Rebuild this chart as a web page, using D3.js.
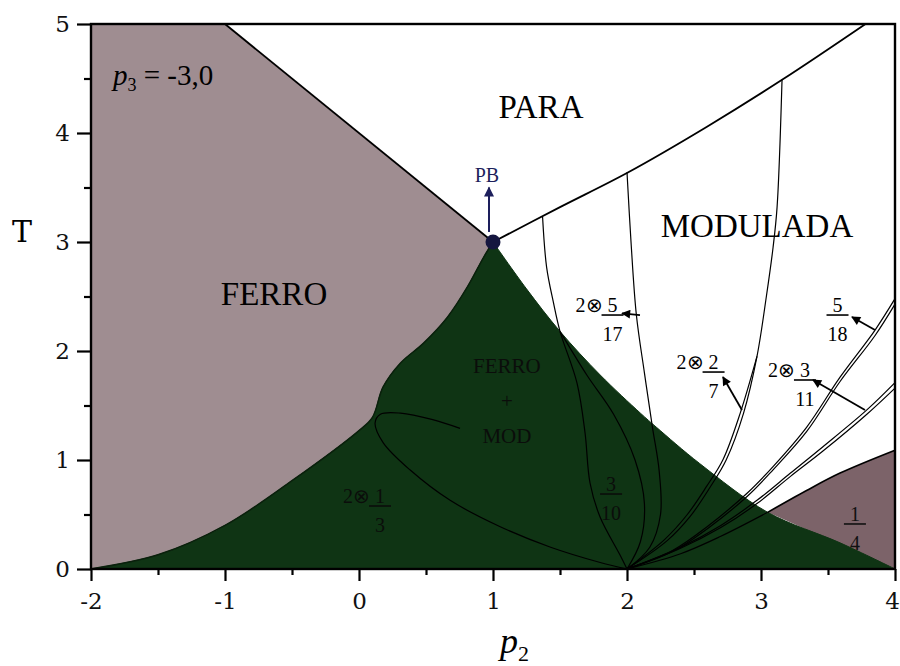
<!DOCTYPE html>
<html><head><meta charset="utf-8">
<script src="https://cdn.jsdelivr.net/npm/d3@7"></script>
<style>body{margin:0;background:#fff}</style>
</head><body><svg id="c" width="900" height="666"></svg>
<script>
// ---------- data ----------
const xTicks = [-2, -1, 0, 1, 2, 3, 4];
const xMinor = [-1.5, -0.5, 0.5, 1.5, 2.5, 3.5];
const yTicks = [0, 1, 2, 3, 4, 5];
const yMinor = [0.5, 1.5, 2.5, 3.5, 4.5];

const ferroParaLine = [[-1, 5], [1, 3]];
const paraModLine = [[1, 3], [1.5, 3.32], [2.01, 3.64], [2.6, 4.06], [3.16, 4.49], [3.78, 5]];
const ferroGreenLine = [[-2, 0], [-1.5, 0.13], [-1.0, 0.40], [-0.5, 0.81], [0, 1.27], [0.1, 1.39], [0.18, 1.67], [0.31, 1.89], [0.48, 2.07], [0.66, 2.31], [0.81, 2.59], [0.93, 2.86], [1, 3]];
const greenRightLine = [[1, 3], [1.25, 2.57], [1.5, 2.18], [1.8, 1.78], [2.1, 1.43], [2.22, 1.30], [2.54, 0.97], [3.05, 0.52], [3.59, 0.24], [4, 0]];
const quarterLine = [[3.05, 0.52], [3.34, 0.72], [3.59, 0.88], [4, 1.09]];

const ellipseLine = [[0.754, 1.29], [0.55, 1.37], [0.31, 1.43], [0.16, 1.42], [0.12, 1.34], [0.18, 1.16], [0.38, 0.91], [0.68, 0.63], [1.05, 0.39], [1.43, 0.20], [1.80, 0.06], [2, 0]];
const lineA = [[1.37, 3.23], [1.40, 2.77], [1.45, 2.45], [1.50, 2.18], [1.627, 1.706], [1.687, 1.248], [1.724, 0.789], [1.799, 0.477], [1.948, 0.128], [2, 0]];
const lobeRight = [[1.5, 2.18], [1.7, 1.78], [1.9, 1.42], [2.06, 1.0], [2.13, 0.6], [2.1, 0.25], [2, 0]];
const lineB = [[2.0, 3.64], [2.03, 3.0], [2.07, 2.33], [2.13, 1.8], [2.19, 1.30], [2.24, 0.9], [2.25, 0.5], [2.17, 0.2], [2, 0]];
const lineC1 = [[3.157, 4.49], [3.12, 3.32], [3.09, 2.95], [3.04, 2.50], [2.97, 1.95], [2.87, 1.43], [2.74, 1.0], [2.62, 0.75], [2.47, 0.48], [2.3, 0.26], [2, 0]];
const lineC2 = [[2.97, 1.95], [2.845, 1.43], [2.715, 1.0], [2.595, 0.76], [2.45, 0.50], [2.28, 0.27], [2, 0]];
const lineD1 = [[4, 2.48], [3.85, 2.19], [3.59, 1.76], [3.34, 1.30], [3.09, 0.94], [2.90, 0.70], [2.60, 0.39], [2.34, 0.17], [2, 0]];
const lineD2 = [[4, 2.43], [3.85, 2.14], [3.59, 1.72], [3.34, 1.26], [3.09, 0.91], [2.90, 0.67], [2.60, 0.37], [2.34, 0.16], [2, 0]];
const lineE1 = [[4, 1.71], [3.79, 1.46], [3.46, 1.12], [3.22, 0.88], [2.97, 0.63], [2.7, 0.40], [2.4, 0.20], [2, 0]];
const lineE2 = [[4, 1.66], [3.79, 1.42], [3.46, 1.08], [3.22, 0.85], [2.97, 0.60], [2.7, 0.38], [2.4, 0.19], [2, 0]];
const lineQ = [[3.05, 0.52], [2.7, 0.30], [2.4, 0.14], [2, 0]];

const multicritical = [1, 3];

// ---------- setup ----------
const svg = d3.select("#c");
const x = d3.scaleLinear().domain([-2, 4]).range([91, 895]);
const y = d3.scaleLinear().domain([0, 5]).range([569, 24]);
const curve = d3.curveCatmullRom.alpha(0.5);
const line = d3.line().x(d => x(d[0])).y(d => y(d[1])).curve(curve);
const straight = d3.line().x(d => x(d[0])).y(d => y(d[1]));
const cont = s => s.replace(/^M/, "L");

const C_FERRO = "#9f8d91", C_GREEN = "#0f3414", C_QUART = "#7c6369";
const SERIF = "'Liberation Serif','Times New Roman',serif";
const AXF = "'DejaVu Serif',serif";

const defs = svg.append("defs");
function marker(id, color, w, h) {
  defs.append("marker").attr("id", id).attr("viewBox", "0 0 10 10").attr("refX", 9).attr("refY", 5)
    .attr("markerWidth", w).attr("markerHeight", h).attr("markerUnits", "userSpaceOnUse").attr("orient", "auto")
    .append("path").attr("d", "M0,0 L10,5 L0,10 Z").attr("fill", color);
}
marker("ah", "#000", 13, 9);
marker("ahpb", "#1d1f5c", 12, 10);

// ---------- regions ----------
const g = svg.append("g");
g.append("path")
  .attr("d", line(ferroGreenLine) + cont(straight([[1, 3], [-1, 5], [-2, 5]])) + "Z")
  .attr("fill", C_FERRO);
g.append("path")
  .attr("d", line(quarterLine) + cont(straight([[4, 1.09], [4, 0]])) + "Z")
  .attr("fill", C_QUART);
g.append("path")
  .attr("d", line(ferroGreenLine) + cont(line(greenRightLine)) + "Z")
  .attr("fill", C_GREEN).attr("stroke", C_GREEN).attr("stroke-width", 1);
g.append("path").attr("d", line(ferroGreenLine)).attr("fill", "none").attr("stroke", "#0a200c").attr("stroke-width", 1.5);

// ---------- lines ----------
const thin = [ellipseLine, lineA, lobeRight, lineB, lineC1, lineC2, lineD1, lineD2, lineE1, lineE2, lineQ];
g.selectAll("path.thin").data(thin).enter().append("path").attr("class", "thin")
  .attr("d", d => line(d)).attr("fill", "none").attr("stroke", "#000").attr("stroke-width", 1.2);

g.append("path").attr("d", straight(ferroParaLine)).attr("fill", "none").attr("stroke", "#000").attr("stroke-width", 1.8);
g.append("path").attr("d", line(paraModLine)).attr("fill", "none").attr("stroke", "#000").attr("stroke-width", 1.8);
g.append("path").attr("d", line(quarterLine)).attr("fill", "none").attr("stroke", "#000").attr("stroke-width", 1.6);

// ---------- axes ----------
const ax = svg.append("g");
const fmt = d => d < 0 ? "-" + Math.abs(d) : String(d);
const xAxis = d3.axisBottom(x).tickValues(xTicks).tickSize(12).tickPadding(12).tickFormat(fmt);
const xAxisMinor = d3.axisBottom(x).tickValues(xMinor).tickSize(6).tickFormat(() => "");
const yAxis = d3.axisLeft(y).tickValues(yTicks).tickSize(14).tickPadding(7).tickFormat(fmt);
const yAxisMinor = d3.axisLeft(y).tickValues(yMinor).tickSize(7).tickFormat(() => "");
function styleAxis(sel) {
  sel.select(".domain").remove();
  sel.selectAll("line").attr("stroke", "#000").attr("stroke-width", 2.2);
  sel.selectAll("text").attr("font-family", AXF).attr("font-size", 23).attr("fill", "#111");
}
const gx = ax.append("g").attr("transform", `translate(0,${y(0)})`).call(xAxis).call(styleAxis);
gx.selectAll(".tick text").filter(d => d === 4).attr("dx", -3);
ax.append("g").attr("transform", `translate(0,${y(0)})`).call(xAxisMinor).call(styleAxis);
ax.append("g").attr("transform", `translate(${x(-2)},0)`).call(yAxis).call(styleAxis);
ax.append("g").attr("transform", `translate(${x(-2)},0)`).call(yAxisMinor).call(styleAxis);
svg.append("rect").attr("x", x(-2)).attr("y", y(5)).attr("width", x(4) - x(-2)).attr("height", y(0) - y(5))
  .attr("fill", "none").attr("stroke", "#000").attr("stroke-width", 2.4);

svg.append("text").attr("x", 22).attr("y", 242).attr("text-anchor", "middle")
  .attr("font-family", AXF).attr("font-size", 30).text("T");
const xt = svg.append("text").attr("x", 500).attr("y", 653).attr("font-family", SERIF).attr("font-size", 36);
xt.append("tspan").attr("font-style", "italic").text("p");
xt.append("tspan").attr("font-size", 22).attr("dy", 8).text("2");

// ---------- labels ----------
function label(px, py, txt, size, color, anchor) {
  return svg.append("text").attr("x", x(px)).attr("y", y(py)).attr("text-anchor", anchor || "middle")
    .attr("font-family", SERIF).attr("font-size", size).attr("fill", color || "#000").text(txt);
}
label(-0.634, 2.422, "FERRO", 33);
label(1.358, 4.138, "PARA", 33);
label(2.970, 3.046, "MODULADA", 33);
label(1.104, 1.798, "FERRO", 21, "#0b0d0b");
label(1.104, 1.477, "+", 21, "#0b0d0b");
label(1.104, 1.156, "MOD", 21, "#0b0d0b");

const p3 = svg.append("text").attr("x", x(-1.836)).attr("y", y(4.44)).attr("font-family", SERIF).attr("font-size", 29);
p3.append("tspan").attr("font-style", "italic").text("p");
p3.append("tspan").attr("font-size", 18).attr("dy", 6).text("3");
p3.append("tspan").attr("dy", -6).text(" = -3,0");

function frac(px, py, num, den, prefix, color, w) {
  const cx = x(px), cy = y(py), hw = (w || 22) / 2;
  const c = color || "#000";
  svg.append("line").attr("x1", cx - hw).attr("x2", cx + hw).attr("y1", cy).attr("y2", cy)
    .attr("stroke", c).attr("stroke-width", 1.6);
  svg.append("text").attr("x", cx).attr("y", cy - 3).attr("text-anchor", "middle")
    .attr("font-family", SERIF).attr("font-size", 20).attr("fill", c).text(num);
  svg.append("text").attr("x", cx).attr("y", cy + 26).attr("text-anchor", "middle")
    .attr("font-family", SERIF).attr("font-size", 20).attr("fill", c).text(den);
  if (prefix) {
    svg.append("text").attr("x", cx - hw + 1).attr("y", cy - 3).attr("text-anchor", "end")
      .attr("font-family", SERIF).attr("font-size", 20).attr("fill", c).text(prefix);
  }
}
frac(1.892, 2.330, "5", "17", "2\u2297");
frac(2.646, 1.807, "2", "7", "2\u2297");
frac(3.328, 1.734, "3", "11", "2\u2297");
frac(3.571, 2.330, "5", "18", null);
frac(0.157, 0.578, "1", "3", "2\u2297", "#0b0d0b");
frac(1.881, 0.688, "3", "10", null, "#0b0d0b");
frac(3.701, 0.413, "1", "4", null, "#111");

const arrows = [[[2.097, 2.33], [1.963, 2.345]], [[2.858, 1.459], [2.716, 1.761]], [[3.776, 1.459], [3.388, 1.734]], [[3.851, 2.193], [3.679, 2.312]]];
svg.selectAll("line.arr").data(arrows).enter().append("line").attr("class", "arr")
  .attr("x1", d => x(d[0][0])).attr("y1", d => y(d[0][1]))
  .attr("x2", d => x(d[1][0])).attr("y2", d => y(d[1][1]))
  .attr("stroke", "#000").attr("stroke-width", 1.8).attr("marker-end", "url(#ah)");

svg.append("line").attr("x1", x(0.97)).attr("x2", x(0.97)).attr("y1", y(3.092)).attr("y2", y(3.5))
  .attr("stroke", "#1d1f5c").attr("stroke-width", 2).attr("marker-end", "url(#ahpb)");
svg.append("circle").attr("cx", x(multicritical[0])).attr("cy", y(multicritical[1])).attr("r", 7.5).attr("fill", "#15163f");
label(0.955, 3.55, "PB", 20, "#1d1f5c");
</script>
</body></html>
